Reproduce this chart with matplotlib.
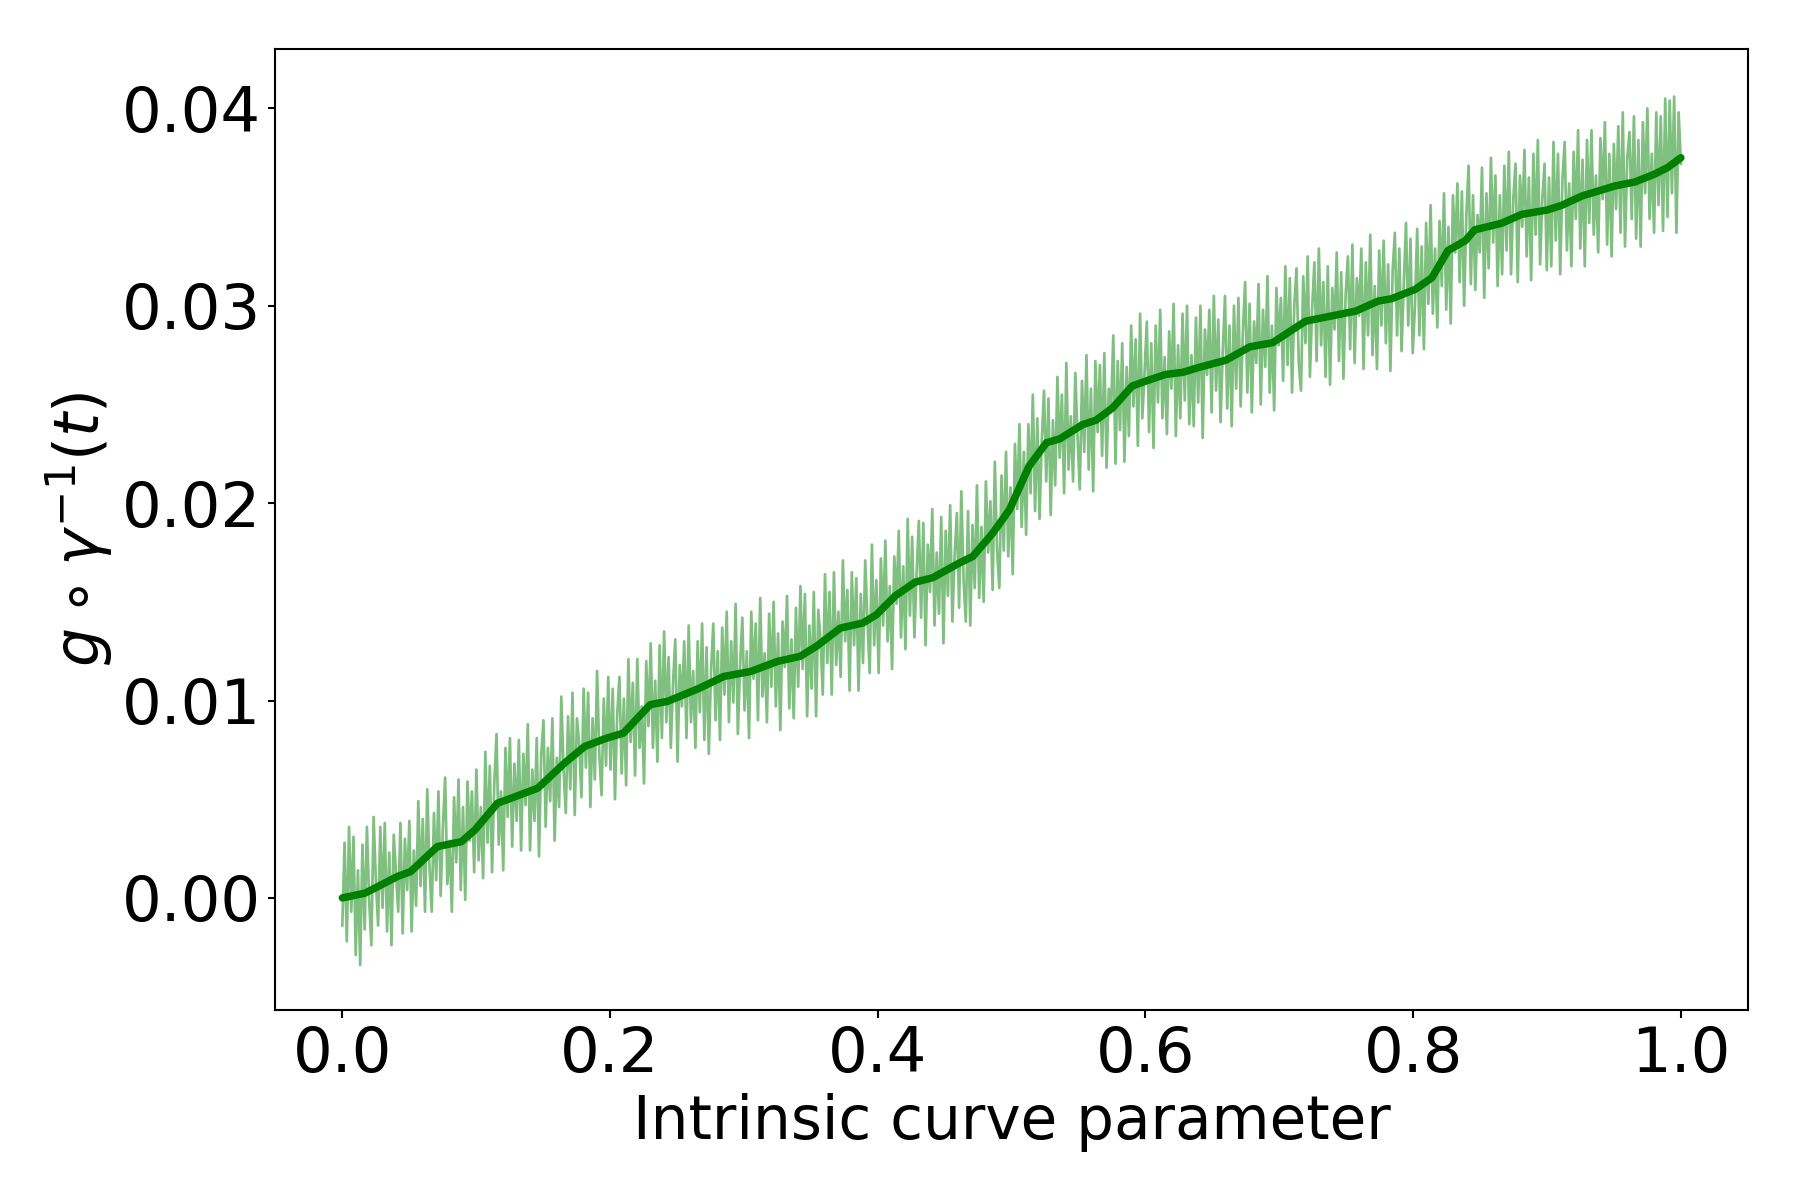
import numpy as np
import matplotlib
matplotlib.use("Agg")
import matplotlib.pyplot as plt

# Smooth (averaged) curve: knots, values in units of 1e-4
smooth_t = [0.0, 0.017, 0.041, 0.051, 0.071, 0.089, 0.099, 0.116, 0.126, 0.146,
            0.166, 0.181, 0.196, 0.210, 0.230, 0.243, 0.267, 0.285, 0.305, 0.325,
            0.342, 0.354, 0.372, 0.389, 0.399, 0.413, 0.428, 0.441, 0.461, 0.471,
            0.486, 0.4985, 0.513, 0.526, 0.536, 0.553, 0.563, 0.5755, 0.590, 0.600,
            0.615, 0.628, 0.640, 0.660, 0.678, 0.695, 0.7196, 0.7445, 0.757, 0.774,
            0.784, 0.8015, 0.814, 0.826, 0.839, 0.846, 0.866, 0.881, 0.900, 0.911,
            0.926, 0.9506, 0.9655, 0.980, 0.990, 1.0]
smooth_v = [0.0, 2.4, 10.8, 13.3, 26.0, 28.5, 34.4, 48.0, 50.5, 55.6,
            68.3, 76.7, 80.6, 83.5, 97.9, 99.6, 106.3, 112.2, 114.7, 119.8,
            122.4, 127.4, 136.7, 139.3, 143.5, 153.0, 160.0, 162.2, 169.7, 173.0,
            184.9, 196.8, 218.7, 230.6, 232.6, 239.8, 242.0, 248.3, 259.3, 261.8,
            265.2, 266.3, 268.8, 272.4, 279.2, 281.3, 292.2, 295.6, 297.3, 302.4,
            303.6, 308.3, 314.2, 328.0, 333.0, 338.5, 341.8, 346.3, 348.5, 350.9,
            355.6, 360.7, 362.7, 366.6, 370.0, 375.0]

# Raw (noisy) samples, evenly spaced over [0, 1], values in units of 1e-4
raw_v = [
    -14, 28, -22, 36, -7, 31, -29, 14, -34, 27,
    -16, 36, -1, -24, 41, 9, -14, 36, -5, 38,
    -17, 23, -24, 32, 13, -7, 38, -18, 30, 4,
    39, -17, 24, -4, 49, 6, 40, -7, 55, 16,
    -7, 43, 9, 54, 1, 36, 61, 7, 29, -7,
    51, 18, 60, 4, 46, -1, 59, 29, 54, 13,
    65, 19, 46, 10, 74, 28, 67, 13, 58, 83,
    27, 54, 14, 76, 41, 81, 26, 68, 39, 80,
    24, 73, 47, 88, 24, 65, 39, 81, 21, 72,
    90, 36, 76, 49, 91, 29, 71, 46, 102, 65,
    43, 92, 55, 104, 42, 91, 78, 51, 106, 66,
    104, 46, 91, 60, 115, 73, 52, 101, 67, 112,
    65, 106, 50, 93, 112, 63, 101, 57, 121, 79,
    109, 62, 121, 76, 97, 58, 120, 87, 129, 76,
    110, 69, 128, 81, 135, 89, 122, 76, 109, 131,
    69, 118, 97, 130, 81, 138, 89, 115, 76, 130,
    94, 139, 80, 127, 73, 115, 139, 90, 125, 80,
    137, 103, 145, 89, 130, 99, 149, 83, 118, 142,
    95, 125, 81, 145, 111, 139, 90, 152, 102, 124,
    89, 144, 107, 150, 97, 134, 85, 140, 117, 153,
    96, 131, 91, 147, 107, 158, 116, 154, 92, 138,
    106, 155, 92, 146, 131, 103, 164, 119, 155, 103,
    165, 118, 145, 112, 171, 130, 156, 105, 165, 128,
    162, 105, 154, 119, 171, 140, 114, 179, 128, 161,
    114, 172, 138, 181, 130, 158, 116, 173, 149, 186,
    132, 168, 126, 192, 143, 183, 132, 165, 191, 142,
    190, 128, 179, 155, 197, 138, 175, 144, 193, 129,
    186, 153, 199, 140, 173, 195, 147, 206, 161, 140,
    196, 138, 189, 157, 209, 152, 188, 150, 211, 175,
    201, 156, 221, 176, 157, 214, 176, 226, 173, 208,
    164, 230, 197, 240, 188, 226, 184, 240, 205, 255,
    196, 243, 192, 232, 257, 211, 253, 194, 242, 209,
    264, 223, 255, 205, 271, 217, 244, 211, 266, 234,
    207, 262, 226, 275, 217, 258, 206, 272, 236, 270,
    224, 276, 218, 258, 246, 285, 220, 272, 237, 281,
    221, 269, 234, 290, 249, 283, 229, 296, 243, 266,
    292, 236, 281, 228, 290, 251, 298, 243, 274, 235,
    287, 258, 301, 234, 280, 243, 296, 252, 300, 240,
    275, 239, 294, 251, 300, 233, 288, 265, 298, 246,
    305, 257, 293, 241, 277, 305, 248, 290, 239, 300,
    258, 304, 249, 287, 312, 256, 301, 246, 292, 271,
    311, 250, 298, 269, 315, 256, 290, 247, 309, 280,
    304, 262, 320, 270, 314, 256, 300, 319, 271, 257,
    315, 281, 325, 264, 299, 322, 272, 329, 280, 312,
    264, 320, 260, 309, 288, 327, 272, 317, 263, 306,
    325, 278, 331, 271, 314, 295, 329, 268, 322, 285,
    336, 275, 310, 268, 328, 290, 333, 281, 321, 267,
    317, 337, 285, 329, 277, 311, 342, 290, 334, 276,
    300, 339, 285, 330, 278, 342, 301, 351, 296, 329,
    289, 343, 310, 357, 298, 340, 291, 356, 327, 362,
    312, 358, 300, 346, 371, 311, 356, 308, 346, 327,
    370, 304, 357, 319, 375, 332, 366, 310, 356, 316,
    371, 328, 378, 316, 354, 372, 312, 366, 340, 379,
    325, 365, 313, 377, 336, 384, 321, 354, 372, 318,
    365, 320, 383, 333, 377, 316, 364, 383, 328, 362,
    320, 378, 344, 389, 329, 374, 320, 384, 342, 389,
    336, 366, 327, 385, 354, 393, 331, 377, 325, 382,
    349, 391, 337, 398, 330, 375, 388, 344, 396, 334,
    384, 330, 393, 357, 400, 344, 377, 337, 398, 351,
    396, 338, 405, 345, 404, 357, 406, 337, 398, 372,
]

x_label = "Intrinsic curve parameter"
y_label = r"$g \circ \gamma^{-1}(t)$"
x_ticks = [0.0, 0.2, 0.4, 0.6, 0.8, 1.0]
y_ticks = [0.00, 0.01, 0.02, 0.03, 0.04]

raw_t = np.linspace(0.0, 1.0, len(raw_v))
raw_y = np.array(raw_v) * 1e-4
sm_t = np.array(smooth_t)
sm_y = np.array(smooth_v) * 1e-4

fig = plt.figure(figsize=(6, 4), dpi=300)
ax = fig.add_axes([0.153, 0.158, 0.818, 0.801])

ax.plot(raw_t, raw_y, color="green", alpha=0.5, lw=0.65)
ax.plot(sm_t, sm_y, color="green", lw=1.8, solid_capstyle="round",
        solid_joinstyle="round")

ax.set_xlim(-0.05, 1.05)
ax.set_ylim(-0.0057, 0.0430)
ax.set_xticks(x_ticks)
ax.set_yticks(y_ticks)
ax.set_xticklabels([f"{v:.1f}" for v in x_ticks])
ax.set_yticklabels([f"{v:.2f}" for v in y_ticks])
ax.tick_params(labelsize=15, length=1.8, width=0.5, pad=1.7)
for s in ax.spines.values():
    s.set_linewidth(0.5)
ax.set_xlabel(x_label, fontsize=14.3, labelpad=2.0)
ax.set_ylabel(y_label, fontsize=14.8, labelpad=1.5)

fig.savefig("out.png", dpi=300)
